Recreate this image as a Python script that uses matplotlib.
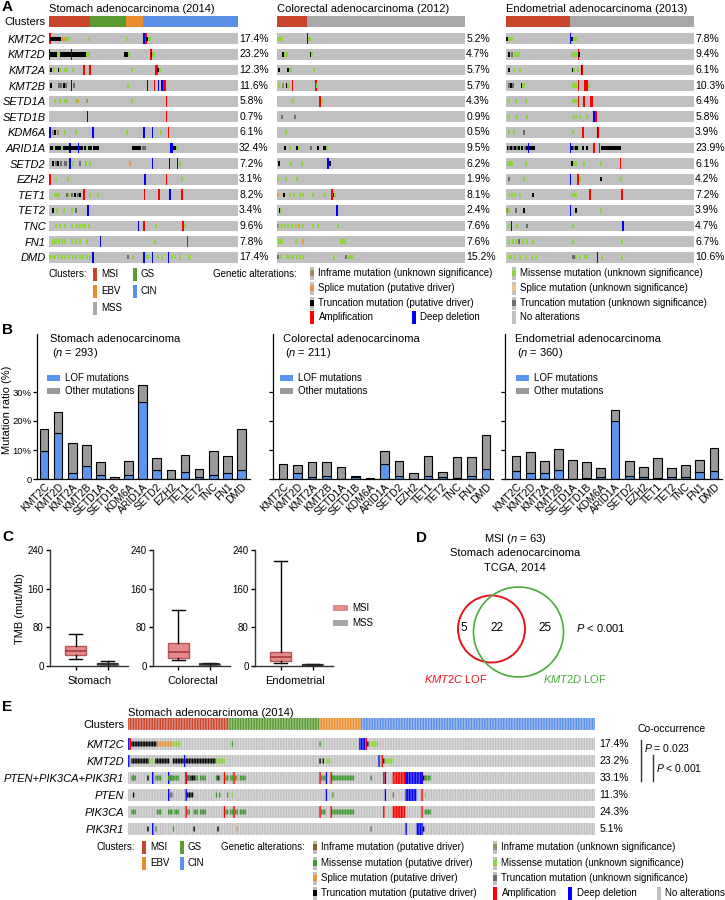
import numpy as np
import matplotlib
matplotlib.use("Agg")
import matplotlib.pyplot as plt
from matplotlib.patches import Rectangle, Circle

plt.rcParams['font.family'] = ['Liberation Sans', 'DejaVu Sans']
plt.rcParams['mathtext.fontset'] = 'custom'
plt.rcParams['mathtext.rm'] = 'Liberation Sans'
plt.rcParams['mathtext.it'] = 'Liberation Sans:italic'

W, H = 725, 900

# ---------------- data ----------------
genes_a = ['KMT2C', 'KMT2D', 'KMT2A', 'KMT2B', 'SETD1A', 'SETD1B', 'KDM6A', 'ARID1A',
           'SETD2', 'EZH2', 'TET1', 'TET2', 'TNC', 'FN1', 'DMD']
cancer_names = ['Stomach adenocarcinoma', 'Colorectal adenocarcinoma', 'Endometrial adenocarcinoma']
cancer_years = ['2014', '2012', '2013']
n_samples = [293, 211, 360]

stad_clusters = [('MSI', 63), ('GS', 57), ('EBV', 26), ('CIN', 147)]
coad_clusters = [('MSI', 34), ('MSS', 177)]
ucec_clusters = [('MSI', 122), ('MSS', 238)]

# altered fraction (%), also total bar height in B
stad_pct = [17.4, 23.2, 12.3, 11.6, 5.8, 0.7, 6.1, 32.4, 7.2, 3.1, 8.2, 3.4, 9.6, 7.8, 17.4]
coad_pct = [5.2, 4.7, 5.7, 5.7, 4.3, 0.9, 0.5, 9.5, 6.2, 1.9, 8.1, 2.4, 7.6, 7.6, 15.2]
ucec_pct = [7.8, 9.4, 6.1, 10.3, 6.4, 5.8, 3.9, 23.9, 6.1, 4.2, 7.2, 3.9, 4.7, 6.7, 10.6]

# LOF part of the bars in B (%)
stad_lof = [9.5, 16.0, 2.0, 4.4, 1.5, 0.0, 1.5, 26.6, 3.0, 0.0, 2.4, 0.7, 1.4, 2.1, 3.0]
coad_lof = [0.0, 1.9, 0.8, 1.2, 0.0, 0.6, 0.0, 5.2, 1.2, 0.0, 1.2, 0.7, 0.5, 1.0, 3.5]
ucec_lof = [2.6, 2.2, 1.9, 3.1, 0.0, 0.3, 0.8, 20.0, 1.0, 0.8, 0.3, 0.8, 0.6, 2.4, 2.6]

# alterations per gene: (first sample, last sample, type)
# M missense(unknown) m missense(driver) T truncation(driver) t truncation(unknown)
# I inframe(unknown) i inframe(driver) S splice(driver) s splice(unknown) A amp D deep del
stad_alts = [
    [(0, 0, 'D'), (1, 1, 'A'), (2, 17, 'T'), (18, 26, 'S'), (27, 31, 'M'), (62, 62, 'M'), (120, 120, 'M'),
     (146, 149, 'D'), (150, 150, 'A'), (151, 152, 'T'), (153, 157, 'M')],
    [(0, 0, 'D'), (2, 12, 'T'), (13, 15, 'M'), (17, 26, 'T'), (27, 33, 'T'), (34, 34, 'D'), (35, 56, 'T'),
     (57, 62, 'M'), (117, 117, 'T'), (120, 120, 'T'), (122, 124, 'M'), (157, 157, 'D'), (158, 158, 'A'),
     (159, 159, 'T'), (160, 163, 'M')],
    [(2, 2, 'T'), (6, 8, 'M'), (14, 15, 'T'), (16, 18, 'M'), (24, 28, 'M'), (36, 36, 'M'), (54, 54, 'A'),
     (62, 64, 'A'), (128, 128, 'M'), (165, 168, 'A'), (169, 169, 'T'), (171, 173, 'M')],
    [(3, 3, 'T'), (14, 15, 't'), (17, 19, 't'), (21, 23, 'T'), (26, 26, 't'), (34, 34, 'D'), (38, 38, 't'),
     (122, 122, 'M'), (152, 152, 'D'), (163, 163, 'A'), (169, 170, 'D'), (173, 175, 'D'), (176, 180, 'A')],
    [(9, 9, 'M'), (17, 17, 'M'), (24, 25, 'M'), (28, 28, 'M'), (40, 44, 'M'), (45, 45, 'S'), (58, 58, 'I'),
     (128, 128, 'M'), (182, 182, 'A')],
    [(59, 59, 'D'), (182, 182, 'A')],
    [(1, 1, 'D'), (5, 5, 'I'), (9, 9, 'T'), (13, 13, 'I'), (24, 24, 'M'), (42, 42, 'M'), (68, 68, 'D'),
     (121, 121, 'M'), (147, 147, 'D'), (160, 160, 'D'), (173, 173, 'M'), (185, 185, 'A')],
    [(1, 6, 'T'), (7, 8, 'M'), (9, 18, 'T'), (19, 20, 'M'), (21, 31, 'T'), (32, 32, 'D'), (33, 44, 'T'),
     (45, 45, 'D'), (46, 52, 'T'), (54, 56, 'T'), (58, 60, 'M'), (62, 62, 'T'), (64, 66, 'T'), (68, 70, 'T'),
     (72, 76, 'T'), (128, 141, 'T'), (145, 146, 't'), (148, 149, 't'), (187, 192, 'D'), (193, 196, 'T'),
     (197, 198, 'M')],
    [(6, 6, 'T'), (10, 10, 't'), (14, 14, 'T'), (18, 18, 't'), (24, 27, 't'), (31, 33, 'D'), (36, 37, 'M'),
     (48, 48, 't'), (57, 57, 'M'), (63, 63, 'M'), (125, 125, 'S'), (160, 160, 'D'), (186, 186, 'D'),
     (199, 199, 'D'), (203, 203, 'M')],
    [(1, 1, 'A'), (11, 11, 'M'), (29, 29, 'M'), (148, 150, 'D'), (182, 182, 'A'), (205, 205, 'M')],
    [(9, 9, 'M'), (12, 12, 'M'), (15, 16, 'M'), (27, 27, 't'), (31, 31, 'M'), (35, 35, 't'), (39, 40, 'T'),
     (44, 44, 't'), (48, 48, 'T'), (54, 54, 'A'), (63, 63, 'M'), (76, 76, 'M'), (147, 148, 'A'),
     (170, 170, 'A'), (187, 187, 'D'), (205, 205, 'D'), (206, 206, 'A')],
    [(6, 6, 'T'), (12, 12, 'M'), (23, 23, 'M'), (35, 35, 'M'), (41, 41, 't'), (60, 60, 'D')],
    [(11, 11, 'M'), (16, 16, 'M'), (24, 24, 'M'), (35, 35, 'M'), (43, 43, 'M'), (46, 48, 'M'), (52, 52, 'M'),
     (55, 55, 'M'), (62, 62, 'M'), (138, 138, 'D'), (147, 147, 'A'), (166, 166, 'M'), (207, 208, 'A'),
     (211, 211, 'M')],
    [(4, 6, 'M'), (8, 12, 'M'), (14, 16, 'M'), (20, 20, 'M'), (24, 24, 'M'), (35, 35, 'M'), (41, 41, 'M'),
     (48, 48, 'M'), (58, 58, 'M'), (79, 79, 'D'), (164, 164, 'M'), (214, 214, 'A')],
    [(1, 1, 'M'), (5, 5, 'M'), (9, 9, 'M'), (14, 15, 'M'), (18, 21, 'M'), (24, 26, 'M'), (31, 31, 'M'),
     (36, 37, 'M'), (42, 42, 'M'), (47, 47, 'M'), (52, 53, 'M'), (58, 58, 'M'), (63, 63, 'M'), (68, 68, 'D'),
     (122, 122, 't'), (130, 130, 'M'), (147, 147, 'D'), (151, 154, 'M'), (160, 160, 'D'), (169, 169, 'M'),
     (175, 175, 'M'), (185, 185, 'D'), (190, 190, 'M'), (195, 196, 'M'), (203, 203, 'M'), (216, 219, 'M')],
]

coad_alts = [
    [(0, 6, 'M'), (34, 34, 'D'), (35, 37, 'M')],
    [(0, 0, 'M'), (6, 7, 'T'), (8, 9, 'M'), (11, 11, 'M'), (38, 38, 'T'), (39, 39, 'M')],
    [(2, 2, 'T'), (12, 12, 'T'), (13, 16, 'M'), (41, 41, 'M')],
    [(2, 2, 'M'), (6, 6, 'I'), (10, 11, 'T'), (12, 12, 'M'), (17, 17, 'A'), (43, 43, 'A'), (44, 45, 'M')],
    [(0, 0, 'M'), (18, 18, 'M'), (47, 48, 'A'), (50, 50, 'M')],
    [(5, 5, 't'), (20, 20, 't')],
    [(10, 10, 'M')],
    [(8, 9, 'T'), (14, 15, 'M'), (22, 22, 'T'), (24, 25, 'M'), (38, 38, 't'), (46, 46, 'T'), (52, 55, 'T'),
     (56, 56, 'M')],
    [(2, 2, 'T'), (15, 16, 'M'), (27, 27, 'M'), (57, 57, 'D'), (59, 59, 'T')],
    [(1, 1, 'M'), (10, 10, 'M'), (22, 22, 'M')],
    [(1, 1, 'S'), (7, 7, 'T'), (14, 14, 'M'), (19, 19, 'M'), (25, 25, 'M'), (29, 29, 'M'), (40, 40, 'M'),
     (53, 53, 'M'), (61, 61, 'A'), (63, 63, 'T'), (64, 65, 'M')],
    [(2, 3, 'T'), (4, 5, 'M'), (67, 67, 'D')],
    [(1, 1, 'I'), (5, 5, 'M'), (8, 9, 'M'), (12, 12, 'M'), (16, 16, 'M'), (21, 21, 'M'), (24, 24, 'S'),
     (29, 29, 'M'), (40, 40, 'M'), (46, 46, 'M'), (68, 69, 'M')],
    [(1, 3, 'M'), (5, 6, 'M'), (21, 21, 'M'), (29, 29, 'S'), (71, 76, 'M')],
    [(1, 1, 't'), (4, 4, 'M'), (10, 14, 'M'), (16, 18, 'M'), (21, 22, 'M'), (25, 25, 'M'), (29, 29, 'M'),
     (63, 63, 'M'), (77, 77, 't'), (80, 85, 'M')],
]

ucec_alts = [
    [(0, 2, 'T'), (3, 12, 'M'), (123, 123, 'D'), (125, 128, 'T'), (129, 136, 'M')],
    [(5, 5, 'T'), (11, 11, 't'), (15, 25, 'M'), (125, 126, 'M'), (129, 131, 'M'), (134, 134, 'M'),
     (138, 138, 'A'), (139, 141, 'T')],
    [(5, 5, 'T'), (15, 15, 'M'), (27, 27, 'M'), (126, 128, 'T'), (130, 130, 'M'), (137, 137, 'M'),
     (144, 145, 'D'), (146, 146, 'A')],
    [(5, 5, 't'), (9, 9, 'T'), (13, 13, 't'), (29, 30, 'T'), (31, 36, 'M'), (126, 131, 'M'), (134, 134, 'M'),
     (138, 138, 'A'), (149, 156, 'A'), (158, 158, 'M')],
    [(5, 5, 'M'), (18, 18, 'M'), (37, 37, 'M'), (127, 127, 'M'), (131, 131, 'M'), (135, 135, 'M'),
     (138, 138, 'A'), (148, 151, 'A'), (160, 166, 'A')],
    [(5, 5, 'M'), (21, 21, 'M'), (40, 40, 'M'), (127, 127, 'M'), (133, 133, 'M'), (141, 141, 'M'),
     (155, 155, 'M'), (167, 169, 'D'), (170, 173, 'A')],
    [(5, 5, 'M'), (15, 15, 'M'), (34, 34, 't'), (127, 128, 'M'), (147, 147, 'A'), (176, 176, 'D'),
     (177, 177, 'A')],
    [(2, 3, 'T'), (5, 6, 't'), (8, 10, 'T'), (12, 13, 't'), (15, 17, 'T'), (19, 21, 't'), (23, 25, 'T'),
     (27, 28, 'M'), (30, 32, 'T'), (34, 36, 't'), (38, 40, 'T'), (43, 43, 'D'), (44, 55, 'T'), (123, 123, 'D'),
     (125, 128, 'T'), (130, 131, 't'), (133, 136, 'T'), (140, 140, 'M'), (146, 147, 'T'), (155, 155, 'T'),
     (168, 168, 'A'), (179, 179, 'A'), (181, 219, 'T')],
    [(2, 3, 'M'), (7, 7, 'M'), (11, 11, 'M'), (37, 37, 'M'), (126, 127, 'T'), (128, 130, 'M'), (133, 133, 'M'),
     (149, 149, 'M'), (181, 181, 'M'), (219, 219, 'A')],
    [(5, 5, 't'), (34, 34, 'M'), (123, 123, 'D'), (137, 137, 'A'), (142, 142, 'M'), (182, 182, 'T'),
     (220, 220, 'M')],
    [(5, 5, 'M'), (11, 11, 'M'), (17, 17, 'M'), (26, 26, 'M'), (52, 52, 'T'), (125, 134, 'M'), (160, 160, 'A'),
     (222, 222, 'A')],
    [(2, 2, 'I'), (5, 5, 'M'), (18, 18, 't'), (34, 34, 'T'), (123, 123, 'D'), (133, 133, 'T'), (182, 182, 'M')],
    [(6, 6, 'M'), (10, 10, 'D'), (20, 20, 'M'), (39, 39, 't'), (126, 129, 'M'), (224, 224, 'D')],
    [(5, 5, 'M'), (12, 12, 'M'), (18, 18, 'M'), (25, 25, 't'), (33, 33, 'M'), (40, 40, 'M'), (51, 51, 'M'),
     (126, 129, 'M'), (222, 222, 'M')],
    [(5, 5, 'M'), (10, 10, 'M'), (17, 17, 'M'), (27, 27, 'M'), (37, 37, 'M'), (50, 50, 'M'), (56, 56, 'M'),
     (126, 131, 't'), (133, 134, 'M'), (142, 142, 'M'), (150, 150, 'M'), (155, 155, 'M'), (175, 175, 'D'),
     (184, 184, 'M'), (222, 223, 'M')],
]

# TMB box plots (C)
tmb_groups = ['Stomach', 'Colorectal', 'Endometrial']
msi_lo = [14, 12, 7]
msi_q1 = [22, 17.5, 10.5]
msi_med = [31, 28, 19]
msi_q3 = [42, 47, 28.5]
msi_hi = [67, 116, 217]
mss_lo = [1, 1, 0.5]
mss_q1 = [3, 2.5, 1.5]
mss_med = [4.5, 3.5, 2.5]
mss_q3 = [6.5, 5, 3.5]
mss_hi = [10, 7, 5]

# Venn (D)
venn_c_only, venn_both, venn_d_only = 5, 22, 25

# E
genes_e = ['KMT2C', 'KMT2D', 'PTEN+PIK3CA+PIK3R1', 'PTEN', 'PIK3CA', 'PIK3R1']
e_pct = [17.4, 23.2, 33.1, 11.3, 24.3, 5.1]
e_kmt2c = [(0, 0, 'D'), (1, 1, 'A'), (2, 17, 'T'), (18, 27, 'S'), (28, 32, 'M'), (65, 65, 'm'), (120, 120, 'm'),
           (145, 148, 'D'), (149, 149, 'A'), (150, 150, 'T'), (152, 156, 'M')]
e_kmt2d = [(0, 0, 'D'), (2, 12, 'T'), (13, 15, 'M'), (17, 25, 'T'), (28, 34, 'T'), (35, 35, 'D'), (36, 54, 'T'),
           (55, 60, 'M'), (120, 120, 'T'), (122, 122, 'T'), (124, 126, 'M'), (157, 157, 'D'), (159, 159, 'A'),
           (160, 160, 'T'), (161, 165, 'M')]
e_pten = [(3, 3, 'T'), (25, 25, 'D'), (26, 27, 't'), (36, 36, 'D'), (37, 40, 'T'), (55, 55, 'm'), (57, 57, 'm'),
          (62, 62, 'm'), (65, 65, 'M'), (124, 124, 'D'), (128, 128, 'm'), (161, 161, 'D'), (166, 166, 't'),
          (174, 180, 'D'), (184, 184, 'A'), (186, 186, 'M')]
e_pik3ca = [(2, 4, 'm'), (18, 20, 'm'), (25, 27, 'm'), (29, 31, 'm'), (36, 36, 'A'), (37, 38, 'm'), (41, 43, 'm'),
            (45, 48, 'm'), (60, 60, 'A'), (61, 62, 'm'), (64, 65, 'm'), (66, 66, 'A'), (67, 68, 'm'), (70, 73, 'm'),
            (120, 120, 'A'), (121, 123, 'm'), (127, 127, 'A'), (128, 141, 'm'), (160, 160, 'A'), (166, 173, 'A'),
            (184, 184, 'A'), (186, 189, 'm')]
e_pik3r1 = [(12, 12, 'T'), (15, 15, 'D'), (17, 17, 'm'), (28, 28, 'm'), (41, 41, 'T'), (56, 56, 'T'),
            (68, 68, 'S'), (152, 152, 't'), (174, 174, 'D'), (181, 184, 'D'), (185, 185, 'T')]

# ---------------- style ----------------
BG = '#c0c0c0'
ALT_COLORS = {'M': '#8ed43f', 'm': '#3d9a30', 'T': '#000000', 't': '#6b6b6b', 'I': '#9e8c68',
              'i': '#8b5a2b', 'S': '#e8983f', 's': '#f0c48f', 'A': '#ff0000', 'D': '#0000ff'}
CL_COLORS = {'MSI': '#c8452b', 'GS': '#5a9b31', 'EBV': '#e98c2a', 'CIN': '#5a8fe6', 'MSS': '#a8a8a8'}
LOF_BLUE = '#5b95ef'
OTHER_GREY = '#9a9a9a'
MSI_BOX = '#e38b8b'
MSS_BOX = '#a5a5a5'
CELL_W = 0.85   # cell width in the detailed oncoprint (E)


def rect(l, t, r, b):
    return [l / W, 1 - b / H, (r - l) / W, (b - t) / H]


fig = plt.figure(figsize=(W / 100, H / 100), dpi=100)

lay = fig.add_axes([0, 0, 1, 1], zorder=20)
lay.set_xlim(0, W)
lay.set_ylim(H, 0)
lay.axis('off')
lay.patch.set_alpha(0)


def txt(x, y, s, size=7, **kw):
    kw.setdefault('va', 'center')
    lay.text(x, y, s, fontsize=size, **kw)


def onco_axes(l, r, y0, pitch, top_row, bot_row):
    ax = fig.add_axes(rect(l, y0 + top_row * pitch, r, y0 + bot_row * pitch))
    ax.set_ylim(bot_row, top_row)
    for sp in ax.spines.values():
        sp.set_visible(False)
    ax.set_xticks([])
    ax.patch.set_alpha(0)
    return ax


def cells(ax, xs, h, bottom, color):
    bars = ax.bar(xs + 0.5, h, width=CELL_W, bottom=bottom, color=color, linewidth=0)
    for b in bars:
        b.set_snap(False)


def draw_onco(ax, n, clusters, alts, crow, rh, per_cell, mut_min=1.0, cna_min=1.0):
    ax.set_xlim(0, n)
    starts = np.cumsum([0] + [c[1] for c in clusters[:-1]])
    for (name, cnt), s0 in zip(clusters, starts):
        if per_cell:
            cells(ax, np.arange(s0, s0 + cnt), rh, crow - rh / 2, CL_COLORS[name])
        else:
            ax.barh(crow, cnt, left=s0, height=rh, color=CL_COLORS[name], linewidth=0)
    for i, row in enumerate(alts):
        if per_cell:
            cells(ax, np.arange(n), rh, i - rh / 2, BG)
        else:
            ax.barh(i, n, left=0, height=rh, color=BG, linewidth=0)
        cna = [a for a in row if a[2] in 'AD']
        mut = [a for a in row if a[2] not in 'AD']
        for group, hh, mw in ((cna, rh, cna_min), (mut, rh * 0.42, mut_min)):
            for s, e, code in group:
                if per_cell:
                    cells(ax, np.arange(s, e + 1), hh, i - hh / 2, ALT_COLORS[code])
                else:
                    w = max(e - s + 1, mw)
                    ax.bar((s + e + 1) / 2, hh, width=w, bottom=i - hh / 2,
                           color=ALT_COLORS[code], linewidth=0)


# ---------------- A ----------------
txt(2, 7, 'A', size=11, weight='bold')
a_blocks = [(49, 238), (277, 465), (506, 694)]
a_clusters = [stad_clusters, coad_clusters, ucec_clusters]
a_alts = [stad_alts, coad_alts, ucec_alts]
a_pcts = [stad_pct, coad_pct, ucec_pct]
y0a, pa = 38.8, 15.6
for k, (l, r) in enumerate(a_blocks):
    ax = onco_axes(l, r, y0a, pa, -1.47, 14.42)
    ppu = (r - l) / n_samples[k]
    draw_onco(ax, n_samples[k], a_clusters[k], a_alts[k], -1.11, 0.7, False,
              mut_min=2.0 / ppu, cna_min=1.5 / ppu)
    if k == 0:
        ax.set_yticks([-1.11] + list(range(len(genes_a))), ['Clusters'] + genes_a)
        for lab in ax.get_yticklabels()[1:]:
            lab.set_style('italic')
        ax.tick_params(axis='y', length=0, pad=2.5, labelsize=8)
    else:
        ax.set_yticks([])
    for i, p in enumerate(a_pcts[k]):
        ax.text(1.006, i, f'{p}%', transform=ax.get_yaxis_transform(), fontsize=7.5,
                va='center', ha='left')
    txt(l, 9.5, f'{cancer_names[k]} ({cancer_years[k]})', size=8)

# A legend
def swatch(x, y, color, full=False, w=4.5, h=13):
    if full:
        lay.add_patch(Rectangle((x, y - h / 2), w, h, facecolor=color, linewidth=0))
    else:
        lay.add_patch(Rectangle((x, y - h / 2), w, h, facecolor=BG, linewidth=0))
        if color is not None:
            lay.add_patch(Rectangle((x, y - h * 0.2), w, h * 0.4, facecolor=color, linewidth=0))


txt(87, 274, 'Clusters:', ha='right')
for name, x, y in [('MSI', 93, 274), ('GS', 133, 274), ('EBV', 93, 291), ('CIN', 133, 291), ('MSS', 93, 308)]:
    swatch(x, y, CL_COLORS[name], full=True)
    txt(x + 8, y, name)
txt(297, 274, 'Genetic alterations:', ha='right')
leg_a = [(310, 273, 'I', 'Inframe mutation (unknown significance)'),
         (310, 288, 'S', 'Splice mutation (putative driver)'),
         (310, 303, 'T', 'Truncation mutation (putative driver)'),
         (512, 273, 'M', 'Missense mutation (unknown significance)'),
         (512, 288, 's', 'Splice mutation (unknown significance)'),
         (512, 303, 't', 'Truncation mutation (unknown significance)')]
for x, y, code, lab in leg_a:
    swatch(x, y, ALT_COLORS[code])
    txt(x + 8.5, y, lab)
swatch(310, 317, ALT_COLORS['A'], full=True)
txt(318.5, 317, 'Amplification')
swatch(412, 317, ALT_COLORS['D'], full=True)
txt(420, 317, 'Deep deletion')
swatch(512, 317, None)
txt(520.5, 317, 'No alterations')

# ---------------- B ----------------
txt(2, 330, 'B', size=11, weight='bold')
b_specs = [(37, 250, 44, 14.1), (273, 493, 283, 14.5), (505, 722, 516, 14.14)]
b_tot = [stad_pct, coad_pct, ucec_pct]
b_lof = [stad_lof, coad_lof, ucec_lof]
b_title_x = [50, 283, 515]
b_leg_x = [47, 280, 516]
for k, (l, r, c0, p) in enumerate(b_specs):
    ax = fig.add_axes(rect(l, 334, r, 479))
    x = np.arange(len(genes_a))
    tot = np.array(b_tot[k])
    lof = np.array(b_lof[k])
    ax.bar(x, lof, width=0.62, color=LOF_BLUE, edgecolor='black', linewidth=0.8)
    ax.bar(x, tot - lof, bottom=lof, width=0.62, color=OTHER_GREY, edgecolor='black', linewidth=0.8)
    ax.set_xlim(-(c0 - l) / p, (r - c0) / p)
    ax.set_ylim(0, 50)
    ax.spines['top'].set_visible(False)
    ax.spines['right'].set_visible(False)
    for sp in ('left', 'bottom'):
        ax.spines[sp].set_linewidth(0.9)
    ax.set_yticks([0, 10, 20, 30])
    if k == 0:
        ax.set_yticklabels(['0', '10%', '20%', '30%'])
    else:
        ax.set_yticklabels([])
    ax.tick_params(axis='y', length=3, width=0.9, labelsize=6.8, pad=1)
    ax.set_xticks(x, genes_a, rotation=45, ha='right', rotation_mode='anchor')
    ax.tick_params(axis='x', length=0, labelsize=7.5, pad=2)
    ax.patch.set_alpha(0)
    tx = b_title_x[k]
    txt(tx, 339, cancer_names[k], size=8)
    txt(tx + 2, 353, f'($n$ = {n_samples[k]})', size=8)
    lx = b_leg_x[k]
    lay.add_patch(Rectangle((lx, 375), 13, 6, facecolor=LOF_BLUE, linewidth=0))
    lay.add_patch(Rectangle((lx, 388), 13, 6, facecolor=OTHER_GREY, linewidth=0))
    txt(lx + 18, 378, 'LOF mutations')
    txt(lx + 18, 391, 'Other mutations')
txt(7, 410, 'Mutation ratio (%)', size=8, rotation=90, ha='center')

# ---------------- C ----------------
txt(2, 537, 'C', size=11, weight='bold')
c_specs = [(50, 128), (153, 230), (255, 333)]
c_lab_x = [90, 193, 295]
for k, (l, r) in enumerate(c_specs):
    ax = fig.add_axes(rect(l, 550, r, 666))
    stats = [dict(whislo=msi_lo[k], q1=msi_q1[k], med=msi_med[k], q3=msi_q3[k], whishi=msi_hi[k], fliers=[]),
             dict(whislo=mss_lo[k], q1=mss_q1[k], med=mss_med[k], q3=mss_q3[k], whishi=mss_hi[k], fliers=[])]
    bp = ax.bxp(stats, positions=[1, 2], widths=0.66, patch_artist=True, showfliers=False,
                capwidths=0.42, whiskerprops=dict(color='black', linewidth=1),
                capprops=dict(color='black', linewidth=1), manage_ticks=False)
    bp['boxes'][0].set(facecolor=MSI_BOX, edgecolor='#b85555', linewidth=1)
    bp['boxes'][1].set(facecolor=MSS_BOX, edgecolor='#7a7a7a', linewidth=1)
    bp['medians'][0].set(color='#a83a3a', linewidth=1.2)
    bp['medians'][1].set(color='#222222', linewidth=1.2)
    ax.set_xlim(0.2, 2.64)
    ax.set_ylim(0, 240)
    ax.set_yticks([0, 80, 160, 240])
    ax.set_xticks([1, 2], ['', ''])
    ax.spines['top'].set_visible(False)
    ax.spines['right'].set_visible(False)
    for sp in ('left', 'bottom'):
        ax.spines[sp].set_linewidth(1)
        ax.spines[sp].set_color('#333333')
    ax.tick_params(length=3, width=1, labelsize=7, pad=1.5)
    ax.patch.set_alpha(0)
    txt(c_lab_x[k], 681, tmb_groups[k], size=8, ha='center')
txt(20, 608, 'TMB (mut/Mb)', size=8, rotation=90, ha='center')
lay.add_patch(Rectangle((333, 605), 15, 6, facecolor=MSI_BOX, linewidth=0))
lay.add_patch(Rectangle((333, 620), 15, 6, facecolor=MSS_BOX, linewidth=0))
txt(352, 608, 'MSI')
txt(352, 623, 'MSS')

# ---------------- D ----------------
txt(416, 538, 'D', size=11, weight='bold')
txt(515, 539, r'MSI ($n$ = 63)', size=8, ha='center')
txt(515, 553, 'Stomach adenocarcinoma', size=8, ha='center')
txt(515, 567, 'TCGA, 2014', size=8, ha='center')
axd = fig.add_axes(rect(415, 580, 625, 690))
axd.set_xlim(415, 625)
axd.set_ylim(690, 580)
axd.axis('off')
axd.add_patch(Circle((491.5, 629), 33.5, fill=False, edgecolor='#e8141c', linewidth=1.4))
axd.add_patch(Circle((518.5, 632), 45, fill=False, edgecolor='#4aaa3c', linewidth=1.2))
axd.text(464, 628, str(venn_c_only), fontsize=8.5, ha='center', va='center')
axd.text(497, 628, str(venn_both), fontsize=8.5, ha='center', va='center')
axd.text(545, 628, str(venn_d_only), fontsize=8.5, ha='center', va='center')
txt(576, 628, r'$P$ < 0.001', size=8)
txt(456, 679, r'$\mathit{KMT2C}$ LOF', size=8, ha='center', color='#e8141c')
txt(575, 679, r'$\mathit{KMT2D}$ LOF', size=8, ha='center', color='#4aaa3c')

# ---------------- E ----------------
txt(2, 707, 'E', size=11, weight='bold')
txt(128, 713, 'Stomach adenocarcinoma (2014)', size=8)
e_alts = [e_kmt2c, e_kmt2d, e_pten + e_pik3ca + e_pik3r1, e_pten, e_pik3ca, e_pik3r1]
axe = onco_axes(128, 595, 744, 17, -1.55, 5.42)
draw_onco(axe, 293, stad_clusters, e_alts, -1.18, 0.7, True)
axe.set_yticks([-1.18] + list(range(len(genes_e))), ['Clusters'] + genes_e)
for lab in axe.get_yticklabels()[1:]:
    lab.set_style('italic')
axe.tick_params(axis='y', length=0, pad=2.5, labelsize=8)
for i, p in enumerate(e_pct):
    axe.text(1.01, i, f'{p}%', transform=axe.get_yaxis_transform(), fontsize=7.5, va='center', ha='left')

txt(638, 729, 'Co-occurrence', size=7.5)
lay.plot([641, 641], [740, 781], color='#333333', linewidth=1)
txt(644, 748, r'$P$ = 0.023', size=7.5)
lay.plot([653, 653], [755, 781], color='#333333', linewidth=1)
txt(656, 768, r'$P$ < 0.001', size=7.5)

# E legend
txt(135, 847, 'Clusters:', ha='right')
for name, x, y in [('MSI', 142, 847), ('GS', 180, 847), ('EBV', 142, 863), ('CIN', 180, 863)]:
    swatch(x, y, CL_COLORS[name], full=True)
    txt(x + 8, y, name)
txt(305, 847, 'Genetic alterations:', ha='right')
leg_e = [(313, 847, 'i', 'Inframe mutation (putative driver)'),
         (313, 863, 'm', 'Missense mutation (putative driver)'),
         (313, 878, 'S', 'Splice mutation (putative driver)'),
         (313, 893, 'T', 'Truncation mutation (putative driver)'),
         (493, 847, 'I', 'Inframe mutation (unknown significance)'),
         (493, 863, 'M', 'Missense mutation (unknown significance)'),
         (493, 878, 't', 'Truncation mutation (unknown significance)')]
for x, y, code, lab in leg_e:
    swatch(x, y, ALT_COLORS[code])
    txt(x + 8.5, y, lab)
swatch(493, 893, ALT_COLORS['A'], full=True)
txt(501.5, 893, 'Amplification')
swatch(568, 893, ALT_COLORS['D'], full=True)
txt(577, 893, 'Deep deletion')
swatch(657, 893, None)
txt(665.5, 893, 'No alterations')

fig.savefig('out.png', dpi=100)
